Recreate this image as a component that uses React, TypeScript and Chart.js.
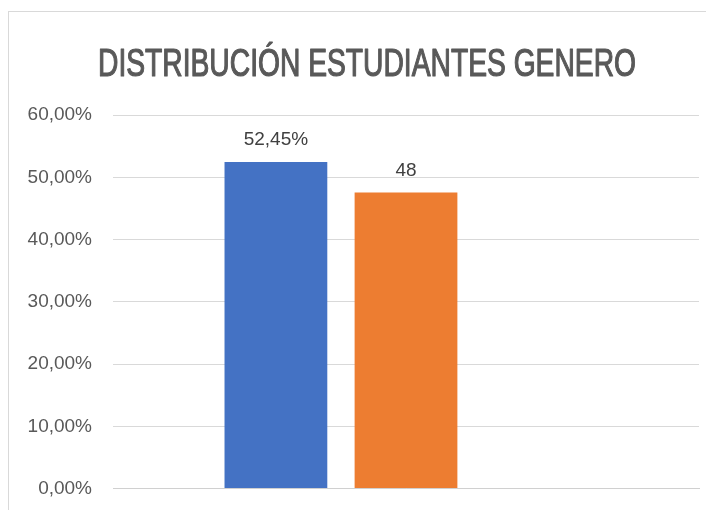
import React, { useEffect, useRef } from "react";
import { Chart, registerables } from "chart.js";

Chart.register(...registerables);

const categories = [""];
const seriesNames = ["Mujeres", "Hombres", "Otro"];
const seriesValues = [[0.5245], [0.4755], [null]];
const seriesColors = ["#4472C4", "#ED7D31", "#A5A5A5"];
const dataLabels = ["52,45%", "48", ""];
const titleText = "DISTRIBUCIÓN ESTUDIANTES GENERO";

const labelPlugin = {
  id: "barLabels",
  afterDatasetsDraw(chart: any) {
    const ctx = chart.ctx;
    ctx.save();
    ctx.font = "19px 'Liberation Sans', Arial, sans-serif";
    ctx.fillStyle = "#404040";
    ctx.textAlign = "center";
    ctx.textBaseline = "alphabetic";
    chart.data.datasets.forEach((ds: any, i: number) => {
      const meta = chart.getDatasetMeta(i);
      meta.data.forEach((bar: any, j: number) => {
        if (ds.data[j] == null) return;
        ctx.fillText(dataLabels[i], bar.x, bar.y - 17);
      });
    });
    ctx.restore();
  },
};

const titlePlugin = {
  id: "customTitle",
  afterDraw(chart: any) {
    const ctx = chart.ctx;
    ctx.save();
    ctx.font = "38px 'Liberation Sans', Arial, sans-serif";
    ctx.fillStyle = "#595959";
    ctx.strokeStyle = "#595959";
    ctx.lineWidth = 1.2;
    ctx.lineJoin = "round";
    ctx.textAlign = "center";
    ctx.textBaseline = "alphabetic";
    const w = ctx.measureText(titleText).width;
    const sx = 538 / w;
    ctx.translate(358, 64);
    ctx.scale(sx, 1);
    ctx.fillText(titleText, 0, 0);
    ctx.strokeText(titleText, 0, 0);
    ctx.restore();
  },
};

export default function App() {
  const ref = useRef<HTMLCanvasElement>(null);
  useEffect(() => {
    if (!ref.current) return;
    const chart = new Chart(ref.current, {
      type: "bar",
      data: {
        labels: categories,
        datasets: seriesNames.map((n, i) => ({
          label: n,
          data: seriesValues[i],
          backgroundColor: seriesColors[i],
          barPercentage: 0.79,
          categoryPercentage: 0.666,
        })),
      },
      options: {
        animation: false,
        responsive: false,
        maintainAspectRatio: false,
        layout: { padding: { left: 0, right: 15, top: 103, bottom: 0 } },
        plugins: {
          legend: { display: false },
          tooltip: { enabled: false },
          title: { display: false },
        },
        scales: {
          x: {
            afterFit: (s: any) => { s.height = 0; },
            grid: { display: false, drawTicks: false },
            border: { display: true, color: "#D0D0D0", width: 1 },
            ticks: { display: false },
          },
          y: {
            min: 0,
            max: 0.6,
            afterFit: (s: any) => { s.width = 104; },
            ticks: {
              stepSize: 0.1,
              padding: 21,
              color: "#595959",
              font: { family: "'Liberation Sans', Arial, sans-serif", size: 19 },
              callback: (v: any) => (Number(v) * 100).toFixed(2).replace(".", ",") + "%",
            },
            grid: { color: "#D9D9D9", drawTicks: false },
            border: { display: false },
          },
        },
      },
      plugins: [labelPlugin, titlePlugin],
    });
    return () => chart.destroy();
  }, []);
  return (
    <div style={{ marginTop: 3, borderTop: "1px solid #D9D9D9", borderLeft: "1px solid #D9D9D9", width: 706, height: 498, overflow: "hidden" }}>
      <canvas ref={ref} width={705} height={509} style={{ display: "block" }} />
    </div>
  );
}
